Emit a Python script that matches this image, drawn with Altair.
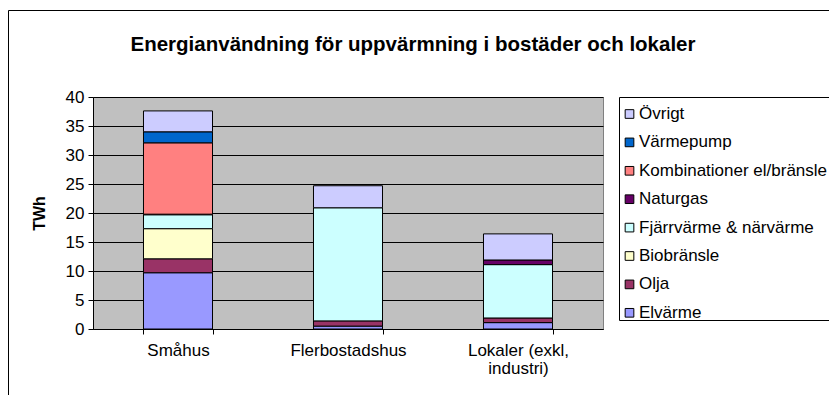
import altair as alt
import pandas as pd

title_text = "Energianvändning för uppvärmning i bostäder och lokaler"
categories = ["Småhus", "Flerbostadshus", "Lokaler (exkl, industri)"]
series = ["Elvärme", "Olja", "Biobränsle", "Fjärrvärme & närvärme", "Naturgas",
          "Kombinationer el/bränsle", "Värmepump", "Övrigt"]
elvarme = [9.7, 0.5, 1.1]
olja = [2.4, 0.9, 0.8]
biobransle = [5.2, 0.0, 0.0]
fjarrvarme = [2.4, 19.5, 9.2]
naturgas = [0.1, 0.0, 0.8]
kombinationer = [12.3, 0.0, 0.0]
varmepump = [1.9, 0.0, 0.0]
ovrigt = [3.6, 3.8, 4.5]
colors = ["#9999FF", "#993366", "#FFFFCC", "#CCFFFF", "#660066", "#FF8080", "#0066CC", "#CCCCFF"]

all_values = [elvarme, olja, biobransle, fjarrvarme, naturgas, kombinationer, varmepump, ovrigt]
rows = []
for si, (s, vals) in enumerate(zip(series, all_values)):
    for c, v in zip(categories, vals):
        if v > 0:
            rows.append({"Kategori": c, "Energislag": s, "TWh": v, "ordning": si})
df = pd.DataFrame(rows)

legend_order = list(reversed(series))
legend_colors = list(reversed(colors))

FONT = "Liberation Sans"
FS = 17

label_expr = ("indexof(datum.label, ', ') > 0 ? "
              "[substring(datum.label, 0, indexof(datum.label, ', ') + 1), "
              "substring(datum.label, indexof(datum.label, ', ') + 2)] : datum.label")

one = pd.DataFrame({"a": [0]})

border = alt.Chart(one).mark_rect(fillOpacity=0, stroke="#000000", strokeWidth=1).encode(
    x=alt.value(-84.5), x2=alt.value(780), y=alt.value(-86.5), y2=alt.value(420)
)
legend_box = alt.Chart(one).mark_rect(fill="white", stroke="#000000", strokeWidth=1).encode(
    x=alt.value(526.5), x2=alt.value(780), y=alt.value(0.5), y2=alt.value(223.5)
)
title = alt.Chart(one).mark_text(
    text=title_text, font=FONT, fontSize=20.5, fontWeight="bold", color="#000000",
    align="center", baseline="alphabetic"
).encode(x=alt.value(320), y=alt.value(-46))

bars = alt.Chart(df).mark_bar(stroke="#000000", strokeWidth=1).encode(
    x=alt.X("Kategori:N", sort=categories,
            scale=alt.Scale(paddingInner=0.594, paddingOuter=0.297),
            axis=alt.Axis(title=None, labelAngle=0, tickBand="extent", labelExpr=label_expr,
                          labelFontSize=FS, labelFont=FONT, labelColor="#000000",
                          labelPadding=8, labelLineHeight=18, tickSize=5,
                          tickColor="#000000", domainColor="#000000")),
    y=alt.Y("TWh:Q", stack="zero", scale=alt.Scale(domain=[0, 40]),
            axis=alt.Axis(title="TWh", values=list(range(0, 41, 5)), grid=True,
                          gridColor="#000000", gridWidth=1, tickSize=5, tickColor="#000000",
                          domainColor="#000000", labelFontSize=FS, labelFont=FONT,
                          labelColor="#000000", labelPadding=4, titleFont=FONT,
                          titleFontSize=16, titleFontWeight="bold", titleColor="#000000",
                          titlePadding=18)),
    color=alt.Color("Energislag:N",
                    scale=alt.Scale(domain=legend_order, range=legend_colors),
                    legend=alt.Legend(title=None, orient="none", legendX=528, legendY=8.5,
                                      direction="vertical", symbolType="square",
                                      symbolSize=75, symbolStrokeColor="#000000",
                                      symbolStrokeWidth=1, labelFontSize=FS, labelFont=FONT,
                                      labelColor="#000000", rowPadding=10.4, padding=0,
                                      labelOffset=1, labelLimit=400)),
    order=alt.Order("ordning:Q", sort="ascending"),
)

chart = alt.layer(border, legend_box, title, bars).properties(
    width=510,
    height=232,
    autosize=alt.AutoSizeParams(type="none"),
    padding={"left": 85, "top": 89, "right": 226, "bottom": 66},
).configure_view(fill="#C0C0C0", stroke="#808080", strokeWidth=1)

chart.save("out.html", embed_options={"renderer": "svg", "actions": False})
